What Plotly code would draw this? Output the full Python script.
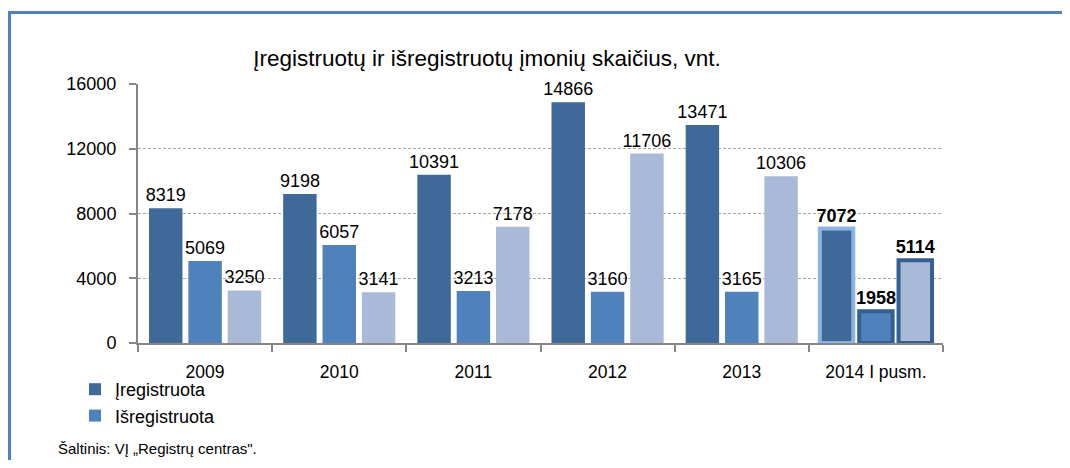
import plotly.graph_objects as go

categories = ["2009", "2010", "2011", "2012", "2013", "2014 I pusm."]
registered = [8319, 9198, 10391, 14866, 13471, 7072]
deregistered = [5069, 6057, 3213, 3160, 3165, 1958]
third_series = [3250, 3141, 7178, 11706, 10306, 5114]
y_ticks = [0, 4000, 8000, 12000, 16000]
y_tick_labels = ["0", "4000", "8000", "12000", "16000"]

# page body has an 8px margin; figure coordinates are page coordinates - 8
OFF = 8
W, H = 1062, 452
L, R, T, B = 130, 127, 76, 117
PW, PH = W - L - R, H - T - B


def px_x(page_px):
    return (page_px - OFF - L) / PW


def px_y(page_py):
    return (H - B - (page_py - OFF)) / PH


FONT = "Liberation Sans, Arial, sans-serif"
last = len(categories) - 1


def labels(vals):
    return [f"<b>{v}</b>" if i == last else f"{v}" for i, v in enumerate(vals)]


def widths(n):
    return [4 if i == last else 0 for i in range(n)]


LABEL_FONT = dict(family=FONT, size=18, color="#000")

fig = go.Figure()
fig.add_trace(go.Bar(
    x=categories, y=registered, name="Įregistruota",
    marker=dict(color="#3F6999",
                line=dict(width=widths(len(registered)),
                          color=["#8DB4E2"] * len(registered))),
    text=labels(registered), textposition="outside", cliponaxis=False,
    constraintext="none", textfont=LABEL_FONT,
))
fig.add_trace(go.Bar(
    x=categories, y=deregistered, name="Išregistruota",
    marker=dict(color="#4F81BD",
                line=dict(width=widths(len(deregistered)),
                          color=["#365F91"] * len(deregistered))),
    text=labels(deregistered), textposition="outside", cliponaxis=False,
    constraintext="none", textfont=LABEL_FONT,
))
fig.add_trace(go.Bar(
    x=categories, y=third_series, name="", showlegend=False,
    marker=dict(color="#A9B9D8",
                line=dict(width=widths(len(third_series)),
                          color=["#365F91"] * len(third_series))),
    text=labels(third_series), textposition="outside", cliponaxis=False,
    constraintext="none", textfont=LABEL_FONT,
))

fig.update_layout(
    width=W, height=H, autosize=False,
    margin=dict(l=L, r=R, t=T, b=B),
    paper_bgcolor="white", plot_bgcolor="white",
    barmode="group", bargap=0.12, bargroupgap=0.15,
    font=dict(family=FONT, size=18, color="#000"),
    title=dict(text="Įregistruotų ir išregistruotų įmonių skaičius, vnt.",
               xref="container", yref="container",
               x=(487 - OFF) / W, y=1 - (58 - OFF) / H,
               xanchor="center", yanchor="middle",
               font=dict(family=FONT, size=22.5, color="#000")),
    showlegend=True,
    legend=dict(orientation="v", x=px_x(75), y=px_y(371),
                xanchor="left", yanchor="top",
                font=dict(family=FONT, size=18, color="#000"),
                itemwidth=30, bgcolor="rgba(0,0,0,0)", traceorder="normal"),
    xaxis=dict(type="category", tickson="boundaries", ticks="outside",
               ticklen=7, tickwidth=2, tickcolor="#868686",
               showline=True, linecolor="#868686", linewidth=2,
               showgrid=False, ticklabelstandoff=12,
               tickfont=dict(family=FONT, size=17.5, color="#000")),
    yaxis=dict(range=[0, 16000], tickvals=y_ticks, ticktext=y_tick_labels,
               ticks="outside",
               ticklen=7, tickwidth=2, tickcolor="#868686",
               showline=True, linecolor="#868686", linewidth=2,
               showgrid=True, gridcolor="#A6A6A6", gridwidth=1,
               griddash="3px,2px", zeroline=False, ticklabelstandoff=9,
               tickfont=dict(family=FONT, size=18, color="#000")),
    annotations=[dict(text="Šaltinis: VĮ „Registrų centras\".",
                      xref="paper", yref="paper", x=px_x(56), y=px_y(448),
                      xanchor="left", yanchor="middle", showarrow=False,
                      font=dict(family=FONT, size=15, color="#000"))],
    shapes=[
        dict(type="line", xref="paper", yref="paper",
             x0=px_x(9.5), x1=px_x(1075), y0=px_y(12.5), y1=px_y(12.5),
             line=dict(color="#4F81BD", width=3)),
        dict(type="line", xref="paper", yref="paper",
             x0=px_x(9.5), x1=px_x(9.5), y0=px_y(11), y1=px_y(475),
             line=dict(color="#4F81BD", width=3)),
    ],
)

fig.write_html("out.html")
